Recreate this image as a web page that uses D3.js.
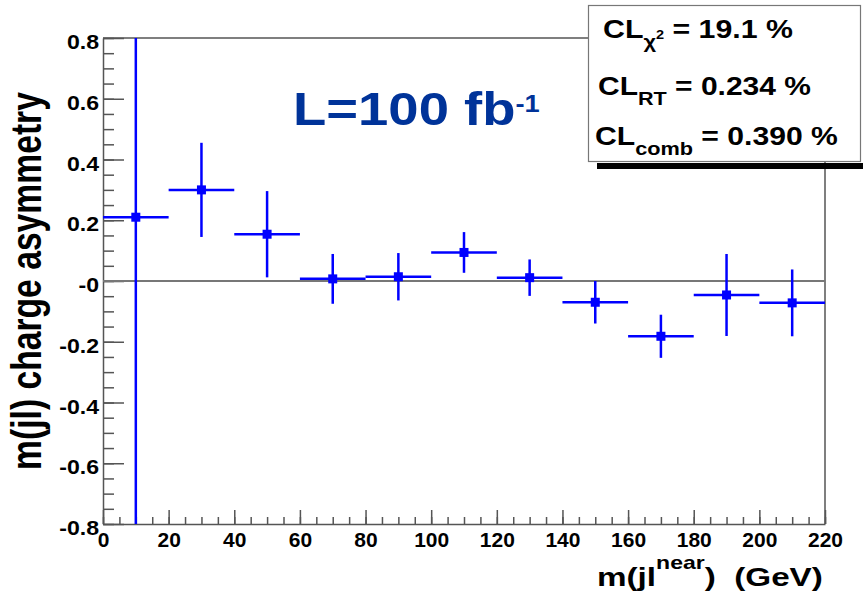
<!DOCTYPE html>
<html>
<head>
<meta charset="utf-8">
<script src="https://cdn.jsdelivr.net/npm/d3@7"></script>
<style>
  html, body { margin: 0; padding: 0; background: #fff; }
  svg { display: block; font-family: "Liberation Sans", Arial, Helvetica, sans-serif; font-weight: bold; }
</style>
</head>
<body>
<svg id="chart" width="863" height="592"></svg>
<script>
// Charge asymmetry per m(jl_near) bin
const binCenters = [10, 30, 50, 70, 90, 110, 130, 150, 170, 190, 210];
const binHalfWidths = [10, 10, 10, 10, 10, 10, 10, 10, 10, 10, 10];
const asymmetry = [0.21, 0.30, 0.154, 0.007, 0.014, 0.094, 0.011, -0.070, -0.182, -0.046, -0.072];
const asymmetryErr = [1.2, 0.155, 0.142, 0.082, 0.078, 0.067, 0.060, 0.070, 0.071, 0.135, 0.110];

// Axis ticks and labels
const xMajorTicks = [0, 20, 40, 60, 80, 100, 120, 140, 160, 180, 200, 220];
const xTickLabels = ["0", "20", "40", "60", "80", "100", "120", "140", "160", "180", "200", "220"];
const yMajorTicks = [-0.8, -0.6, -0.4, -0.2, 0, 0.2, 0.4, 0.6, 0.8];
const yTickLabels = ["-0.8", "-0.6", "-0.4", "-0.2", "-0", "0.2", "0.4", "0.6", "0.8"];

// Confidence-level summary lines: [main, subscript, superscript on subscript, value]
const clNames = ["CL", "CL", "CL"];
const clSubs = ["χ", "RT", "comb"];
const clSubSups = ["2", "", ""];
const clValues = [" = 19.1 %", " = 0.234 %", " = 0.390 %"];

const svg = d3.select("#chart");
const frame = { left: 103, right: 825, top: 38, bottom: 524 };

const x = d3.scaleLinear().domain([0, 220]).range([frame.left, frame.right]);
const y = d3.scaleLinear().domain([-0.8, 0.8]).range([frame.bottom, frame.top]);

const axisColor = "#555";
const markColor = "#0000ff";

// Stretch a text element horizontally so that it spans [x0, x0 + width]
function fitText(g, x0, width) {
  const bb = g.node().getBBox();
  const s = width / bb.width;
  g.attr("transform", `translate(${x0 - s * bb.x},0) scale(${s},1)`);
}

// Frame top and right edges
svg.append("line").attr("x1", frame.left).attr("x2", frame.right)
  .attr("y1", frame.top).attr("y2", frame.top)
  .attr("stroke", axisColor).attr("stroke-width", 1.5);
svg.append("line").attr("x1", frame.right).attr("x2", frame.right)
  .attr("y1", frame.top).attr("y2", frame.bottom)
  .attr("stroke", axisColor).attr("stroke-width", 1.5);

// Y axis: minor then major ticks, pointing inward
const yMinor = d3.range(-0.8, 0.8001, 0.05).map(v => +v.toFixed(2));
svg.append("g").attr("transform", `translate(${frame.left},0)`)
  .call(d3.axisLeft(y).tickValues(yMinor).tickSizeInner(-11).tickSizeOuter(0).tickFormat(""))
  .call(g => g.select(".domain").remove())
  .call(g => g.selectAll("line").attr("stroke", axisColor).attr("stroke-width", 1.5));
const yAxis = svg.append("g").attr("transform", `translate(${frame.left},0)`)
  .call(d3.axisLeft(y).tickValues(yMajorTicks).tickSizeInner(-21).tickSizeOuter(0).tickPadding(4)
    .tickFormat((d, i) => yTickLabels[i]));
yAxis.select(".domain").attr("stroke", axisColor).attr("stroke-width", 1.5);
yAxis.selectAll("line").attr("stroke", axisColor).attr("stroke-width", 1.5);
yAxis.selectAll("text")
  .attr("fill", "#000").attr("font-size", 21).attr("font-weight", "bold")
  .attr("font-family", "Liberation Sans, Arial, sans-serif")
  .attr("dy", "0.5em")
  .attr("transform", "translate(-4,0) scale(1.1,1) translate(4,0)");

// X axis: minor then major ticks, pointing inward
const xMinor = d3.range(0, 221, 5);
svg.append("g").attr("transform", `translate(0,${frame.bottom})`)
  .call(d3.axisBottom(x).tickValues(xMinor).tickSizeInner(-7).tickSizeOuter(0).tickFormat(""))
  .call(g => g.select(".domain").remove())
  .call(g => g.selectAll("line").attr("stroke", axisColor).attr("stroke-width", 1.5));
const xAxis = svg.append("g").attr("transform", `translate(0,${frame.bottom})`)
  .call(d3.axisBottom(x).tickValues(xMajorTicks).tickSizeInner(-14).tickSizeOuter(0).tickPadding(9)
    .tickFormat((d, i) => xTickLabels[i]));
xAxis.select(".domain").attr("stroke", axisColor).attr("stroke-width", 1.5);
xAxis.selectAll("line").attr("stroke", axisColor).attr("stroke-width", 1.5);
xAxis.selectAll("text")
  .attr("fill", "#000").attr("font-size", 20).attr("font-weight", "bold")
  .attr("font-family", "Liberation Sans, Arial, sans-serif")
  .attr("transform", "scale(1.05,1)");

// Zero reference line
svg.append("line")
  .attr("x1", x(0)).attr("x2", x(220)).attr("y1", y(0)).attr("y2", y(0))
  .attr("stroke", "#777").attr("stroke-width", 2);

// Data points with error bars, clipped to the frame
svg.append("clipPath").attr("id", "plotClip").append("rect")
  .attr("x", frame.left).attr("y", frame.top)
  .attr("width", frame.right - frame.left).attr("height", frame.bottom - frame.top);
const pts = svg.append("g").attr("clip-path", "url(#plotClip)")
  .selectAll("g").data(binCenters).join("g");
pts.append("line")
  .attr("x1", (d, i) => x(d - binHalfWidths[i])).attr("x2", (d, i) => x(d + binHalfWidths[i]))
  .attr("y1", (d, i) => y(asymmetry[i])).attr("y2", (d, i) => y(asymmetry[i]))
  .attr("stroke", markColor).attr("stroke-width", 2.5);
pts.append("line")
  .attr("x1", d => x(d)).attr("x2", d => x(d))
  .attr("y1", (d, i) => y(asymmetry[i] + asymmetryErr[i])).attr("y2", (d, i) => y(asymmetry[i] - asymmetryErr[i]))
  .attr("stroke", markColor).attr("stroke-width", 2.5);
pts.append("rect")
  .attr("x", d => x(d) - 4.5).attr("y", (d, i) => y(asymmetry[i]) - 4.5)
  .attr("width", 9).attr("height", 9).attr("fill", markColor);

// Luminosity label
const lumi = svg.append("text").attr("y", 125).attr("fill", "#003399").attr("font-size", 46);
lumi.append("tspan").text("L=100 fb");
lumi.append("tspan").attr("font-size", 23).attr("dy", -13).text("-1");
fitText(lumi, 293, 247);

// Confidence-level box with drop shadow
svg.append("rect").attr("x", 597).attr("y", 163).attr("width", 280).attr("height", 6).attr("fill", "#000");
svg.append("rect").attr("x", 588.5).attr("y", 5.5).attr("width", 272).attr("height", 156)
  .attr("fill", "#fff").attr("stroke", "#777").attr("stroke-width", 1.2);
const clBaselines = [38, 95, 145];
const clStarts = [603, 598, 595];
const clEnds = [793, 811, 838];
clNames.forEach((name, i) => {
  const t = svg.append("text").attr("y", clBaselines[i]).attr("font-size", 25).attr("fill", "#000");
  t.append("tspan").text(name);
  t.append("tspan").attr("font-size", 18).attr("dy", 10).text(clSubs[i]);
  let back = -10;
  if (clSubSups[i]) {
    t.append("tspan").attr("font-size", 12).attr("dy", -9).text(clSubSups[i]);
    back = -1;
  }
  t.append("tspan").attr("dy", back).text(clValues[i]);
  fitText(t, clStarts[i], clEnds[i] - clStarts[i]);
});

// X axis title
const xt = svg.append("text").attr("y", 586).attr("font-size", 26).attr("fill", "#000");
xt.append("tspan").text("m(jl");
xt.append("tspan").attr("font-size", 18).attr("dy", -17).text("near");
xt.append("tspan").attr("dy", 17).text(")\u00a0\u00a0(GeV)");
fitText(xt, 597, 226);

// Y axis title (rotated)
const ytG = svg.append("g");
const yt = ytG.append("text").attr("x", 0).attr("y", 0).attr("text-anchor", "middle")
  .attr("font-size", 32).attr("fill", "#000").text("m(jl) charge asymmetry");
const ytW = yt.node().getBBox().width;
ytG.attr("transform", `translate(41,281) rotate(-90) scale(${378 / ytW},1.35)`);
</script>
</body>
</html>
